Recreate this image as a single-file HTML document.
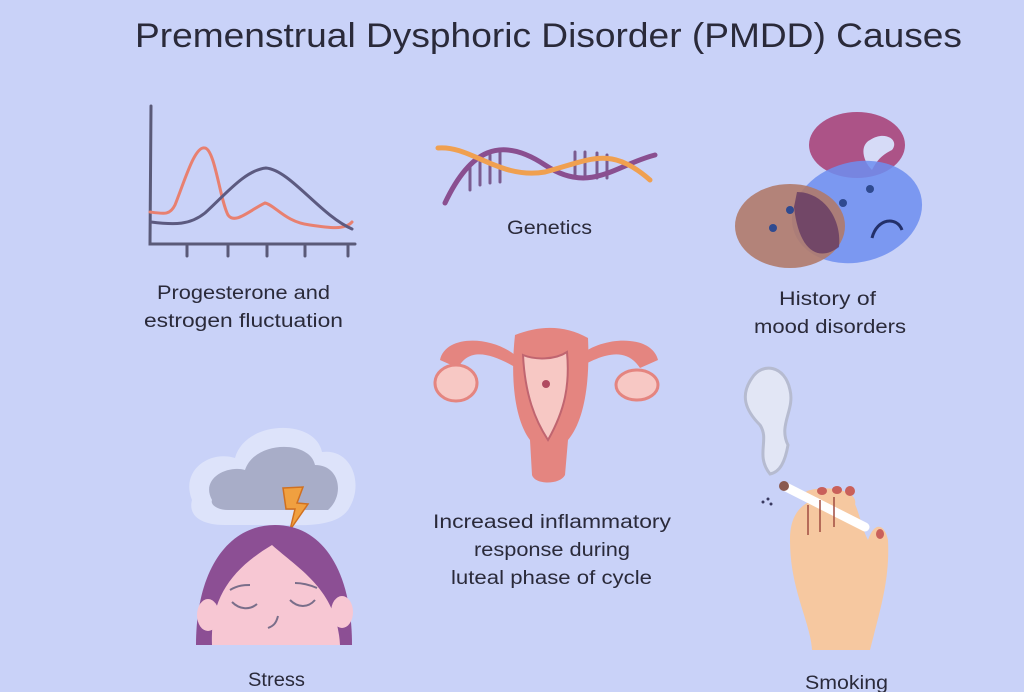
<!DOCTYPE html>
<html><head><meta charset="utf-8"><style>
html,body{margin:0;padding:0;background:#c9d2f8;}
svg{display:block}
text{font-family:"Liberation Sans",sans-serif;fill:#2a2a3a}
</style></head><body>
<svg width="1024" height="692" viewBox="0 0 1024 692" xmlns="http://www.w3.org/2000/svg">
<rect width="1024" height="692" fill="#c9d2f8"/>
<text x="135" y="47" font-size="34" textLength="827" lengthAdjust="spacingAndGlyphs">Premenstrual Dysphoric Disorder (PMDD) Causes</text>

<!-- graph -->
<g fill="none" stroke-linecap="round">
<path d="M151 106 L150 244 L355 244" stroke="#5a5a78" stroke-width="3"/>
<path d="M187 246v10M228 246v10M267 246v10M305 246v10M348 246v10" stroke="#5a5a78" stroke-width="3"/>
<path d="M150 212 C165 214,170 215,175 205 C185 180,195 145,205 148 C215 150,220 200,228 215 C235 225,250 210,265 203 C275 205,285 222,310 225 C330 228,345 230,352 222" stroke="#e88070" stroke-width="3"/>
<path d="M151 222 C175 225,190 225,205 213 C225 195,245 170,266 168 C290 170,320 215,352 229" stroke="#5c5a80" stroke-width="3"/>
</g>
<text x="157" y="299" font-size="19" textLength="173" lengthAdjust="spacingAndGlyphs">Progesterone and</text>
<text x="144" y="327" font-size="19" textLength="199" lengthAdjust="spacingAndGlyphs">estrogen fluctuation</text>

<!-- DNA -->
<g fill="none" stroke-linecap="round">
<path d="M470 165v25M480 160v25M490 155v28M575 152v26M585 152v26M597 153v25M607 155v23M500 152v30" stroke="#7a5c90" stroke-width="3"/>
<path d="M445 203 C470 150,500 135,545 165 C590 195,615 165,655 155" stroke="#8a4f90" stroke-width="5"/>
<path d="M438 148 C470 145,500 180,545 172 C590 160,610 145,650 180" stroke="#f0a050" stroke-width="5"/>
</g>
<text x="507" y="234" font-size="19" textLength="85" lengthAdjust="spacingAndGlyphs">Genetics</text>

<!-- faces -->
<ellipse cx="857" cy="145" rx="48" ry="33" fill="#a8457a" opacity="0.9"/>
<path d="M870 140 c15-10,30 0,22 10 c-10 5,-15 10,-20 20 c-10-10,-12-25,-2-30z" fill="#d6dbf7"/>
<ellipse cx="857" cy="212" rx="66" ry="50" fill="#6d8ef0" opacity="0.85" transform="rotate(-15 857 212)"/>
<ellipse cx="790" cy="226" rx="55" ry="42" fill="#b07a6a" opacity="0.9"/>
<path d="M797 192 c25 0,45 25,42 55 c-20 15,-40 5,-45-40z" fill="#5a3060" opacity="0.7"/>
<circle cx="773" cy="228" r="4" fill="#2f4a90"/><circle cx="790" cy="210" r="4" fill="#2f4a90"/>
<circle cx="843" cy="203" r="4" fill="#2f4a90"/><circle cx="870" cy="189" r="4" fill="#2f4a90"/>
<path d="M872 238 c5-20,25-22,30-8" fill="none" stroke="#23306a" stroke-width="3"/>
<text x="779" y="305" font-size="19" textLength="97" lengthAdjust="spacingAndGlyphs">History of</text>
<text x="754" y="333" font-size="19" textLength="152" lengthAdjust="spacingAndGlyphs">mood disorders</text>

<!-- uterus -->
<g fill="#e48580">
<path d="M440 360 C445 335,490 335,515 355 L520 370 C495 355,470 345,458 368z"/>
<path d="M658 360 C652 335,605 335,580 355 L575 370 C600 355,625 345,640 368z"/>
<path d="M515 335 C540 325,565 325,588 338 C590 380,585 420,568 440 L565 475 C560 485,535 485,532 475 L530 440 C515 420,510 380,515 335z"/>
</g>
<ellipse cx="456" cy="383" rx="21" ry="18" fill="#f7c8c4" stroke="#e48580" stroke-width="3"/>
<ellipse cx="637" cy="385" rx="21" ry="15" fill="#f7c8c4" stroke="#e48580" stroke-width="3"/>
<path d="M523 355 C535 360,555 360,567 352 C570 385,565 410,548 440 C535 420,525 395,523 355z" fill="#f7c8c4" stroke="#c06570" stroke-width="2"/>
<circle cx="546" cy="384" r="4" fill="#b04a60"/>
<text x="433" y="528" font-size="19" textLength="238" lengthAdjust="spacingAndGlyphs">Increased inflammatory</text>
<text x="474" y="556" font-size="19" textLength="156" lengthAdjust="spacingAndGlyphs">response during</text>
<text x="451" y="584" font-size="19" textLength="201" lengthAdjust="spacingAndGlyphs">luteal phase of cycle</text>

<!-- stress -->
<path d="M192 500 C180 470,210 450,235 458 C245 420,315 418,322 452 C352 448,365 485,348 510 C335 528,300 525,280 525 L225 525 C200 525,188 515,192 500z" fill="#dde3fa"/>
<path d="M212 500 C200 478,228 465,245 470 C255 440,310 440,315 465 C340 465,345 495,328 510 L228 510 C218 510,210 505,212 500z" fill="#a8adc8"/>
<path d="M283 488 L303 487 L297 503 L308 504 L290 530 L295 509 L286 509z" fill="#f0a040" stroke="#d07020" stroke-width="1.5"/>
<path d="M196 645 C196 570,228 525,275 525 C322 525,352 570,352 645z" fill="#8c4f94"/>
<path d="M212 645 C210 600,230 570,272 545 C300 570,337 590,340 645z" fill="#f7c7d3"/>
<ellipse cx="208" cy="615" rx="11" ry="16" fill="#f7c7d3"/><ellipse cx="342" cy="612" rx="11" ry="16" fill="#f7c7d3"/>
<g fill="none" stroke="#7a6e8a" stroke-width="2">
<path d="M230 590 c8-5,15-5,20-5M295 583 c8 0,15 2,22 5M232 602 c8 8,18 8,25 2M290 600 c8 8,18 8,25 0M278 616 c-2 8,-5 10,-10 12"/>
</g>
<text x="248" y="686" font-size="19" textLength="57" lengthAdjust="spacingAndGlyphs">Stress</text>

<!-- smoking -->
<path d="M770 474 C755 455,770 440,760 425 C745 410,740 395,752 378 C762 362,785 365,790 390 C795 410,778 425,788 445 C785 462,780 472,770 474z" fill="#e2e6f5" stroke="#b6bbd0" stroke-width="3"/>
<path d="M790 540 C790 515,800 500,830 495 L850 495 C860 510,860 525,868 540 C875 520,885 525,888 540 C890 580,880 610,870 650 L812 650 C810 620,790 590,790 540z" fill="#f6c8a0"/>
<path d="M803 495 C805 485,860 485,855 505" fill="#f6c8a0"/>
<line x1="784" y1="486" x2="865" y2="527" stroke="#fff" stroke-width="9" stroke-linecap="round"/>
<circle cx="784" cy="486" r="5" fill="#8a5a50"/>
<g fill="#3a3a60"><circle cx="763" cy="502" r="1.5"/><circle cx="768" cy="499" r="1.5"/><circle cx="771" cy="504" r="1.5"/></g>
<g stroke="#a04c40" stroke-width="1.5"><path d="M808 505v30M820 500v32M834 497v30"/></g>
<ellipse cx="822" cy="491" rx="5" ry="4" fill="#c9605a"/><ellipse cx="837" cy="490" rx="5" ry="4" fill="#c9605a"/><ellipse cx="850" cy="491" rx="5" ry="5" fill="#c9605a"/><ellipse cx="880" cy="534" rx="4" ry="5" fill="#c9605a"/>
<text x="805" y="689" font-size="19" textLength="83" lengthAdjust="spacingAndGlyphs">Smoking</text>
</svg>
</body></html>
